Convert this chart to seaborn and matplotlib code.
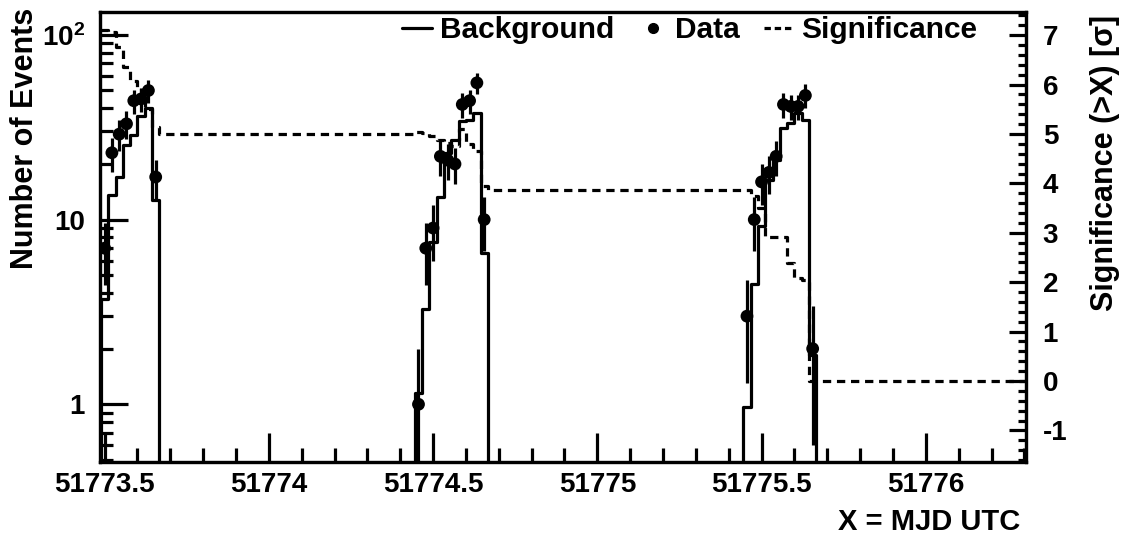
import matplotlib
matplotlib.use("Agg")
import matplotlib.pyplot as plt
import numpy as np
import pandas as pd
import seaborn as sns
from matplotlib.lines import Line2D
from matplotlib.ticker import FixedLocator, FuncFormatter, LogLocator, MultipleLocator, NullFormatter

# 32 min bins, three nights of data
bin_width = 32 / 1440
night_start = [51773 + 22 / 45, 51774 + 20 / 45, 51775 + 20 / 45]

bkg_1 = [3.7, 13.6, 17.1, 25.4, 28.8, 36.2, 40.2, 12.8]
bkg_2 = [1.15, 3.3, 7.6, 13.3, 23.0, 27.1, 34.0, 34.7, 37.8, 6.6]
bkg_3 = [0.97, 4.5, 9.2, 16.4, 21.1, 31.3, 33.3, 37.8, 34.7, 1.85]

data_1 = [7, 23, 29, 33, 44, 45, 50, 17]
data_2 = [1, 7, 9, 22, 21, 20, 42, 44, 55, 10]
data_3 = [3, 10, 16, 18, 22, 42, 41, 41, 47, 2]

err_1 = [2.6, 4.8, 5.4, 5.7, 6.6, 6.7, 7.1, 4.1]
err_2 = [1.0, 2.6, 3.0, 4.7, 4.6, 4.5, 6.5, 6.6, 7.4, 3.2]
err_3 = [1.7, 3.2, 4.0, 4.2, 4.7, 6.5, 6.4, 6.4, 6.9, 1.4]

sig_1 = [7.1, 7.07, 6.77, 6.36, 6.07, 5.9, 5.5, 5.15]
sig_2 = [5.05, 5.02, 4.95, 4.88, 4.82, 4.75, 5.1, 4.8, 4.65, 3.95]
sig_3 = [3.87, 3.75, 3.5, 2.92, 2.92, 2.92, 2.39, 2.09, 2.04, 0.0]
sig_after = [5.01, 3.87, 0.0]

x_range = (51773.486, 51776.305)
y_range = (0.487, 133)
sig_range = (-1.64, 7.47)

x_ticks = [51773.5, 51774, 51774.5, 51775, 51775.5, 51776]
y_ticks = [1, 10, 100]
y_ticklabels = ["1", "10", r"$\mathbf{10^{2}}$"]
sig_ticks = [-1, 0, 1, 2, 3, 4, 5, 6, 7]

sns.set_style("ticks")
plt.rcParams["font.family"] = ["Liberation Sans", "DejaVu Sans"]
plt.rcParams["font.weight"] = "bold"
plt.rcParams["axes.labelweight"] = "bold"
plt.rcParams["mathtext.fontset"] = "custom"
plt.rcParams["mathtext.rm"] = "Liberation Sans:bold"
plt.rcParams["mathtext.bf"] = "Liberation Sans:bold"
plt.rcParams["axes.unicode_minus"] = False
for key in ["text.color", "axes.labelcolor", "xtick.color", "ytick.color", "axes.edgecolor"]:
    plt.rcParams[key] = "black"

bkgs = [bkg_1, bkg_2, bkg_3]
datas = [data_1, data_2, data_3]
errs = [err_1, err_2, err_3]
sigs = [sig_1, sig_2, sig_3]

# build tables
bkg_rows, pts_rows = [], []
sig_x, sig_y = [], []
for i, start in enumerate(night_start):
    n = len(bkgs[i])
    edges = start + bin_width * np.arange(n + 1)
    xs = np.concatenate([[edges[0]], edges])
    ys = np.concatenate([[0.0], bkgs[i], [0.0]])
    for x, y in zip(xs, ys):
        bkg_rows.append({"mjd": x, "counts": y, "night": i})
    centers = edges[:-1] + bin_width / 2
    for x, y, e in zip(centers, datas[i], errs[i]):
        pts_rows.append({"mjd": x, "counts": y, "err": e})
    sig_x.extend(edges)
    sig_y.extend(list(sigs[i]) + [sig_after[i]])
sig_x.append(x_range[1])
sig_y.append(sig_after[-1])

bkg_df = pd.DataFrame(bkg_rows)
pts_df = pd.DataFrame(pts_rows)
sig_df = pd.DataFrame({"mjd": sig_x, "sig": sig_y})

fig = plt.figure(figsize=(11.28, 5.42), dpi=100)
ax = fig.add_axes([100 / 1128, 80 / 542, 926 / 1128, 450 / 542])

lw = 2.3
sns.lineplot(data=bkg_df, x="mjd", y="counts", units="night", estimator=None, sort=False,
             drawstyle="steps-post", color="black", lw=lw, ax=ax, legend=False)
ax.errorbar(pts_df["mjd"], pts_df["counts"], yerr=pts_df["err"], fmt="none",
            ecolor="black", elinewidth=lw, capsize=0)
sns.scatterplot(data=pts_df, x="mjd", y="counts", color="black", s=85, edgecolor="none",
                ax=ax, legend=False, zorder=5)

ax.set_yscale("log")
ax.set_xlim(*x_range)
ax.set_ylim(*y_range)
ax.yaxis.set_major_locator(FixedLocator(y_ticks))
ax.set_yticklabels(y_ticklabels)
ax.yaxis.set_minor_locator(LogLocator(base=10, subs=np.arange(2, 10)))
ax.yaxis.set_minor_formatter(NullFormatter())
ax.xaxis.set_major_locator(FixedLocator(x_ticks))
ax.xaxis.set_major_formatter(FuncFormatter(lambda v, _: f"{v:g}"))
ax.xaxis.set_minor_locator(MultipleLocator(0.1))

ax.tick_params(axis="both", which="both", direction="in", width=lw, labelsize=20)
ax.tick_params(axis="y", which="major", length=20, pad=11)
ax.tick_params(axis="y", which="minor", length=9.5)
ax.tick_params(axis="x", which="major", length=21, pad=7)
ax.tick_params(axis="x", which="minor", length=10)
ax.tick_params(top=False, right=False)
for s in ax.spines.values():
    s.set_linewidth(lw)

ax.set_xlabel("X = MJD UTC", fontsize=21)
ax.xaxis.label.set(ha="right", va="center")
ax.xaxis.set_label_coords((1020 - 100) / 926, (462 - 522) / 450)
ax.set_ylabel("Number of Events", fontsize=22)
ax.yaxis.label.set(ha="center", va="top", rotation_mode="default")
ax.yaxis.set_label_coords((25 - 100) / 926, (462 - 8) / 450)

# significance on the right axis
ax2 = ax.twinx()
sns.lineplot(data=sig_df, x="mjd", y="sig", estimator=None, sort=False, drawstyle="steps-post",
             color="black", lw=lw, dashes=False, ax=ax2, legend=False)
ax2.lines[0].set_dashes((2.6, 1.8))
ax2.set_ylim(*sig_range)
ax2.set_xlim(*x_range)
ax2.yaxis.set_major_locator(FixedLocator(sig_ticks))
ax2.yaxis.set_minor_locator(MultipleLocator(0.2))
ax2.tick_params(axis="y", which="both", direction="in", width=lw, labelsize=20)
ax2.tick_params(axis="y", which="major", length=12, pad=12)
ax2.tick_params(axis="y", which="minor", length=6)
for s in ax2.spines.values():
    s.set_linewidth(lw)
ax2.set_ylabel("Significance (>X) [σ]", fontsize=22)
ax2.yaxis.label.set(ha="center", va="top", rotation=90, rotation_mode="default")
ax2.yaxis.set_label_coords((1105 - 100) / 926, (462 - 15) / 450)

handles = [
    Line2D([], [], color="black", lw=lw),
    Line2D([], [], color="black", marker="o", ls="none", markersize=7),
    Line2D([], [], color="black", lw=lw, dashes=(2.0, 1.2)),
]
ax2.legend(handles, ["Background", "Data", "Significance"], ncols=3, frameon=False,
           loc="center", bbox_to_anchor=(0.637, 0.96), fontsize=21.5,
           handlelength=1.0, handletextpad=0.25, columnspacing=0.8, borderpad=0)

fig.savefig("out.png", dpi=100)
